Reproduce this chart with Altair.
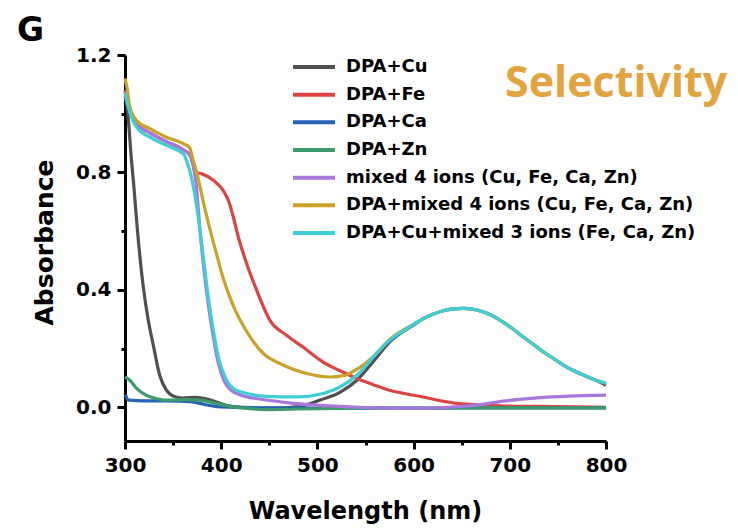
import altair as alt
import pandas as pd

# ---------------- data ----------------
series_names = [
    "DPA+Cu",
    "DPA+Fe",
    "DPA+Ca",
    "DPA+Zn",
    "mixed 4 ions (Cu, Fe, Ca, Zn)",
    "DPA+mixed 4 ions (Cu, Fe, Ca, Zn)",
    "DPA+Cu+mixed 3 ions (Fe, Ca, Zn)",
]
series_colors = ["#505050", "#db4440", "#2463b5", "#3d9b6b", "#a877dc", "#c9a227", "#3fcdd6"]

peak_wl = [610, 620, 630, 640, 652, 662, 672, 683, 693, 704, 714, 725, 735, 746, 756, 766, 777, 788, 800]
peak_abs = [0.302, 0.317, 0.328, 0.334, 0.337, 0.334, 0.325, 0.310, 0.290, 0.265, 0.239, 0.213, 0.188, 0.165,
            0.143, 0.125, 0.109, 0.094, 0.080]

cu_wl = [300, 302, 304, 306, 309, 313, 319, 324, 329.5, 336, 343, 350, 360, 374, 385, 395, 405, 420, 440, 460, 480,
         492, 503, 523, 541, 558, 575, 593, 600] + peak_wl
cu_abs = [1.06, 1.03, 0.96, 0.87, 0.76, 0.60, 0.41, 0.30, 0.21, 0.11, 0.058, 0.038, 0.031, 0.034, 0.028, 0.018,
          0.007, 0.0, -0.003, -0.003, 0.002, 0.012, 0.025, 0.05, 0.092, 0.155, 0.222, 0.266, 0.28] + peak_abs[:-1] + [0.075]

fe_wl = [300, 302, 305, 312, 326, 343, 360, 369, 373, 380, 392, 402, 408, 412.6, 417.8, 426.5, 437, 450.7,
         468, 485, 506, 523, 541, 558, 575, 593, 610, 628, 645, 662, 690, 750, 800]
fe_abs = [1.08, 1.05, 1.01, 0.965, 0.935, 0.905, 0.878, 0.855, 0.80, 0.795, 0.773, 0.739, 0.70, 0.648, 0.58, 0.489,
          0.398, 0.296, 0.245, 0.205, 0.154, 0.125, 0.098, 0.077, 0.058, 0.045, 0.035, 0.022, 0.013, 0.009,
          0.005, 0.002, 0.0]

ca_wl = [300, 301, 302, 304, 320, 340, 355, 370, 382, 390, 400, 450, 500, 600, 700, 800]
ca_abs = [0.035, 0.038, 0.030, 0.024, 0.022, 0.022, 0.021, 0.018, 0.010, 0.005, 0.001, -0.002, -0.003, -0.003, -0.002, -0.002]

zn_wl = [300, 305, 312, 322, 332, 343, 355, 364, 378, 392, 413, 430, 447, 480, 520, 600, 700, 800]
zn_abs = [0.103, 0.092, 0.064, 0.041, 0.030, 0.024, 0.025, 0.026, 0.024, 0.015, 0.001, -0.005, -0.008, -0.006,
          -0.004, -0.003, -0.002, -0.002]

mix_wl = [300, 302, 305, 312, 326, 343, 360, 367, 371, 374, 378, 382, 387, 392, 397, 403, 410, 420, 440, 468, 499,
          534, 560, 600, 630, 650, 670, 693, 710, 728, 762, 800]
mix_abs = [1.075, 1.045, 1.01, 0.965, 0.935, 0.905, 0.878, 0.86, 0.82, 0.76, 0.60, 0.47, 0.34, 0.235, 0.15, 0.09,
           0.058, 0.042, 0.028, 0.016, 0.007, 0.001, -0.002, -0.003, -0.001, 0.003, 0.009, 0.021, 0.027, 0.032,
           0.038, 0.041]

dmix_wl = [300, 302, 305, 312, 326, 343, 360.6, 367, 371, 374.5, 381.4, 388.4, 395.3, 402, 412.6, 426.5, 443.8, 461,
           488.9, 513, 528, 536, 548, 558, 575, 593, 600] + peak_wl
dmix_abs = [1.12, 1.09, 1.022, 0.977, 0.949, 0.92, 0.898, 0.885, 0.84, 0.80, 0.70, 0.605, 0.52, 0.44, 0.345, 0.258,
            0.183, 0.149, 0.115, 0.103, 0.108, 0.12, 0.145, 0.172, 0.23, 0.27, 0.282] + peak_abs[:-1] + [0.082]

cum_wl = [300, 302, 305, 312, 326, 343, 355, 361, 364, 369.3, 376.2, 381.4, 386.6, 391.8, 397, 404, 412.6, 426.5,
          447, 478, 506, 523, 541, 558, 575, 593, 600] + peak_wl
cum_abs = [1.07, 1.04, 1.005, 0.954, 0.92, 0.892, 0.875, 0.862, 0.84, 0.78, 0.648, 0.512, 0.375, 0.262, 0.171,
           0.103, 0.064, 0.047, 0.037, 0.035, 0.047, 0.068, 0.109, 0.171, 0.228, 0.268, 0.282] + peak_abs[:-1] + [0.082]

all_wl = [cu_wl, fe_wl, ca_wl, zn_wl, mix_wl, dmix_wl, cum_wl]
all_abs = [cu_abs, fe_abs, ca_abs, zn_abs, mix_abs, dmix_abs, cum_abs]

x_ticks = [300, 400, 500, 600, 700, 800]
x_minor = [350, 450, 550, 650, 750]
y_ticks = [0.0, 0.4, 0.8, 1.2]
y_minor = [0.2, 0.6, 1.0]

FONT = "DejaVu Sans"
x_scale = alt.Scale(domain=[300, 800], nice=False, zero=False)
y_scale = alt.Scale(domain=[-0.115, 1.2], nice=False, zero=False)

x_axis = alt.Axis(values=x_ticks, title="Wavelength (nm)", titleFontSize=24, titleFont=FONT, titleFontWeight="bold",
                  titleX=240, titleY=77, titleBaseline="alphabetic", titleAnchor="middle", titleAlign="center",
                  labelFlush=False)
y_axis = alt.Axis(values=y_ticks, format=".1f", title="Absorbance", titleFontSize=25, titleFont=FONT,
                  titleFontWeight="bold", titleX=-73, titleY=187, titleAngle=270, titleBaseline="alphabetic",
                  titleAlign="center", labelFlush=False)

line_layers = []
for name, wl, ab, col in zip(series_names, all_wl, all_abs, series_colors):
    df = pd.DataFrame({"wl": wl, "abs": ab, "series": name})
    line_layers.append(
        alt.Chart(df).mark_line(strokeWidth=3.2, interpolate="monotone", color=col).encode(
            x=alt.X("wl:Q", scale=x_scale, axis=x_axis),
            y=alt.Y("abs:Q", scale=y_scale, axis=y_axis),
        )
    )
lines = alt.layer(*line_layers)

minor_df = pd.DataFrame({"wl": [cu_wl[0]], "abs": [cu_abs[0]]})
minor = alt.Chart(minor_df).mark_point(opacity=0).encode(
    x=alt.X("wl:Q", scale=x_scale,
            axis=alt.Axis(values=x_minor, labels=False, domain=False, tickSize=4, title=None, orient="bottom")),
    y=alt.Y("abs:Q", scale=y_scale,
            axis=alt.Axis(values=y_minor, labels=False, domain=False, tickSize=4, title=None, orient="left")),
)

main = alt.layer(lines, minor).resolve_axis(x="independent", y="independent")

leg_df = pd.DataFrame({"label": series_names, "color": series_colors})
leg_y = alt.Y("label:N", scale=alt.Scale(type="point", domain=series_names, range=[12, 178], padding=0), axis=None)
leg_color = alt.Color("label:N", scale=alt.Scale(domain=series_names, range=series_colors), legend=None)
leg_rule = alt.Chart(leg_df).mark_rule(strokeWidth=4).encode(
    x=alt.value(168), x2=alt.value(210), y=leg_y, color=leg_color
)
leg_text = alt.Chart(leg_df).mark_text(
    align="left", baseline="middle", font=FONT, fontWeight="bold", fontSize=18, color="black"
).encode(x=alt.value(221), y=leg_y, text="label:N")
legend = alt.layer(leg_rule, leg_text)

sel_df = pd.DataFrame({"t": ["Selectivity"]})
sel = alt.Chart(sel_df).mark_text(
    align="left", baseline="alphabetic", font="Open Sans", fontWeight="bold", fontSize=43, color="#e3a33f"
).encode(x=alt.value(380), y=alt.value(42), text="t:N")

g_df = pd.DataFrame({"t": ["G"]})
g = alt.Chart(g_df).mark_text(
    align="left", baseline="alphabetic", font=FONT, fontWeight="bold", fontSize=33, color="black"
).encode(x=alt.value(-108), y=alt.value(-14), text="t:N")

chart = alt.layer(main, legend, sel, g).resolve_scale(y="independent").properties(
    width=481, height=386,
    padding={"left": 125, "top": 55, "right": 132, "bottom": 87},
    autosize=alt.AutoSizeParams(type="none"),
).configure_view(stroke=None).configure_axis(
    grid=False,
    labelFont=FONT, labelFontWeight="bold", labelFontSize=20, labelColor="black",
    domainColor="black", domainWidth=3, tickColor="black", tickWidth=3, tickSize=8,
    labelPadding=6, titleColor="black",
)

chart.save("out.html", embed_options={"renderer": "svg", "actions": False})
